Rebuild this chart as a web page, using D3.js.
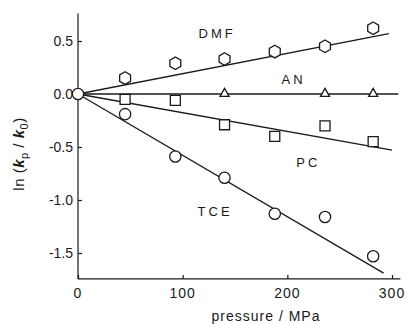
<!DOCTYPE html>
<html>
<head>
<meta charset="utf-8">
<script src="https://cdn.jsdelivr.net/npm/d3@7"></script>
<style>
  body { margin: 0; background: #fff; }
  svg { font-family: "Liberation Sans", Arial, sans-serif; }
</style>
</head>
<body>
<svg width="411" height="324"></svg>
<script>
// pressure in MPa, ln(kp/k0)
const pressure = [45, 93, 140, 188, 236, 282];
const dmf = [0.15, 0.29, 0.33, 0.40, 0.45, 0.62];
const an = [null, null, 0.01, null, 0.01, 0.01];
const pc = [-0.05, -0.06, -0.29, -0.40, -0.30, -0.45];
const tce = [-0.19, -0.59, -0.79, -1.13, -1.16, -1.53];

// fitted lines: [end pressure, end value], all start at origin
const fits = [
  { name: "DMF", end: [297, 0.57] },
  { name: "AN", end: [306, 0.0] },
  { name: "PC", end: [300, -0.53] },
  { name: "TCE", end: [292, -1.69] }
];

const xTicks = [0, 100, 200, 300];
const yTicks = [0.5, 0.0, -0.5, -1.0, -1.5];

const svg = d3.select("svg");
const x = d3.scaleLinear().domain([0, 300]).range([78, 392]);
const y = d3.scaleLinear().domain([-1.5, 0.5]).range([253, 41]);

const ink = "#1a1a1a";

// axes
svg.append("line")
  .attr("x1", x(0)).attr("x2", x(0))
  .attr("y1", y(0.76)).attr("y2", y(-1.745))
  .attr("stroke", ink).attr("stroke-width", 1.2);
svg.append("line")
  .attr("x1", x(0)).attr("x2", x(308))
  .attr("y1", y(-1.745)).attr("y2", y(-1.745))
  .attr("stroke", ink).attr("stroke-width", 1.2);

const yAxis = d3.axisRight(y).tickValues(yTicks).tickSize(4).tickFormat("");
svg.append("g")
  .attr("transform", `translate(${x(0)},0)`)
  .call(yAxis)
  .call(g => g.select(".domain").remove())
  .call(g => g.selectAll("line").attr("stroke", ink).attr("stroke-width", 1.2));

svg.append("g").selectAll("text")
  .data(yTicks)
  .join("text")
  .attr("x", 73)
  .attr("y", d => y(d))
  .attr("dy", "0.36em")
  .attr("text-anchor", "end")
  .attr("font-size", 14)
  .attr("fill", ink)
  .text(d => d === 0 ? "0.0" : d.toFixed(1));

const xAxis = d3.axisTop(x).tickValues(xTicks).tickSize(4).tickFormat("");
svg.append("g")
  .attr("transform", `translate(0,${y(-1.745)})`)
  .call(xAxis)
  .call(g => g.select(".domain").remove())
  .call(g => g.selectAll("line").attr("stroke", ink).attr("stroke-width", 1.2));

svg.append("g").selectAll("text")
  .data(xTicks)
  .join("text")
  .attr("x", d => x(d))
  .attr("y", 298)
  .attr("text-anchor", "middle")
  .attr("font-size", 14)
  .attr("letter-spacing", 1)
  .attr("fill", ink)
  .text(d => d);

svg.append("text")
  .attr("x", 266).attr("y", 321)
  .attr("text-anchor", "middle")
  .attr("font-size", 14)
  .attr("letter-spacing", 1)
  .attr("fill", ink)
  .text("pressure / MPa");

const ylab = svg.append("text")
  .attr("transform", "translate(24,154) rotate(-90)")
  .attr("text-anchor", "middle")
  .attr("font-size", 15)
  .attr("letter-spacing", 0.5)
  .attr("fill", ink);
ylab.append("tspan").text("ln (");
ylab.append("tspan").attr("font-style", "italic").attr("font-weight", "bold").text("k");
ylab.append("tspan").attr("font-size", 11).attr("dy", 4).text("p");
ylab.append("tspan").attr("dy", -4).text(" / ");
ylab.append("tspan").attr("font-style", "italic").attr("font-weight", "bold").text("k");
ylab.append("tspan").attr("font-size", 11).attr("dy", 4).text("0");
ylab.append("tspan").attr("dy", -4).text(")");

// fitted lines
svg.append("g").selectAll("line")
  .data(fits)
  .join("line")
  .attr("x1", x(0)).attr("y1", y(0))
  .attr("x2", d => x(d.end[0])).attr("y2", d => y(d.end[1]))
  .attr("stroke", ink).attr("stroke-width", 1.3);

// markers
function hexagon(r) {
  const pts = d3.range(6).map(i => {
    const a = Math.PI / 3 * i - Math.PI / 2;
    return [r * Math.cos(a), r * Math.sin(a)];
  });
  return "M" + pts.join("L") + "Z";
}
const shapes = {
  hex: hexagon(6.3),
  circle: d3.symbol(d3.symbolCircle, 100)(),
  square: "M-5,-5H5V5H-5Z",
  triangle: "M0,-4.5L4.5,3.5H-4.5Z"
};

const series = [
  { vals: dmf, shape: "hex" },
  { vals: an, shape: "triangle" },
  { vals: pc, shape: "square" },
  { vals: tce, shape: "circle" }
];

const pts = [];
series.forEach(s => {
  s.vals.forEach((v, i) => {
    if (v !== null) pts.push({ p: pressure[i], v: v, shape: s.shape });
  });
});
pts.push({ p: 0, v: 0, shape: "circle" });

svg.append("g").selectAll("path")
  .data(pts)
  .join("path")
  .attr("transform", d => `translate(${x(d.p)},${y(d.v)})`)
  .attr("d", d => shapes[d.shape])
  .attr("fill", "#fff")
  .attr("stroke", ink)
  .attr("stroke-width", 1.3);

// series labels
const labels = [
  { text: "DMF", p: 133, v: 0.57 },
  { text: "AN", p: 206, v: 0.14 },
  { text: "PC", p: 220, v: -0.64 },
  { text: "TCE", p: 131, v: -1.11 }
];
svg.append("g").selectAll("text")
  .data(labels)
  .join("text")
  .attr("x", d => x(d.p))
  .attr("y", d => y(d.v))
  .attr("dy", "0.36em")
  .attr("text-anchor", "middle")
  .attr("font-size", 13)
  .attr("letter-spacing", 3)
  .attr("fill", ink)
  .text(d => d.text);
</script>
</body>
</html>
